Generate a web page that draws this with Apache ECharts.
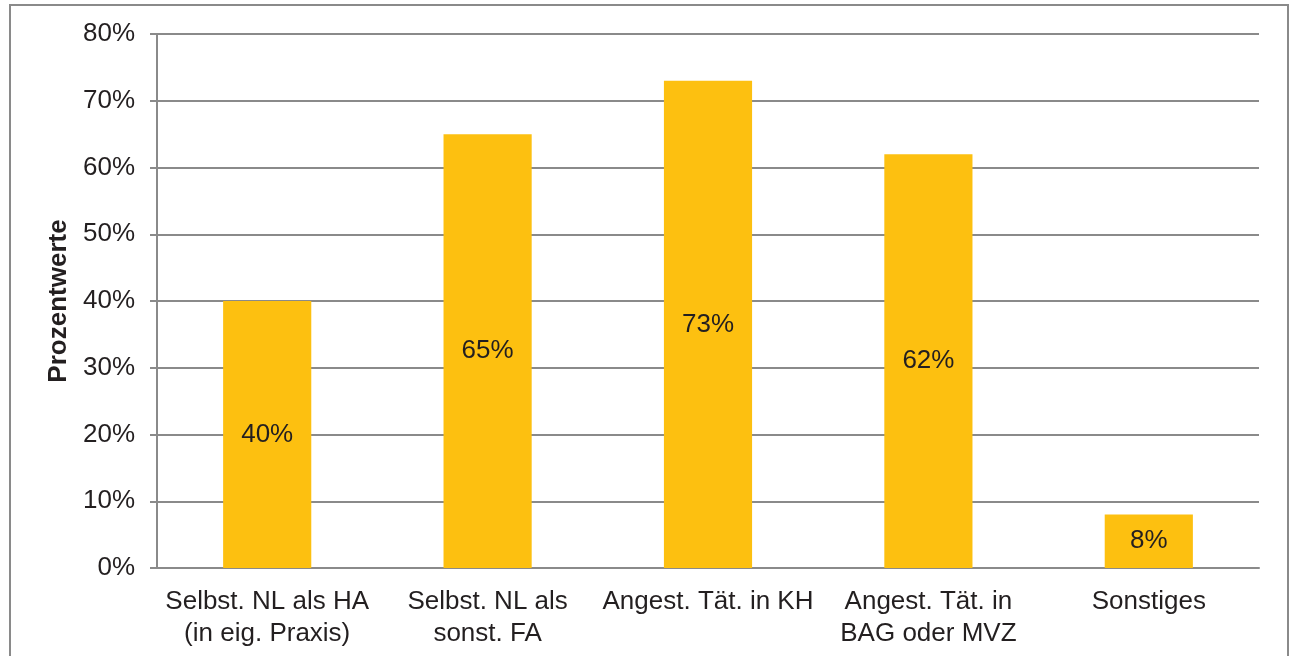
<!DOCTYPE html>
<html>
<head>
<meta charset="utf-8">
<script src="https://cdn.jsdelivr.net/npm/echarts@6/dist/echarts.min.js"></script>
<style>
  html, body { margin: 0; padding: 0; background: #fff; }
  #chart { width: 1295px; height: 656px; }
</style>
</head>
<body>
<div id="chart"></div>
<script>
// Kategorien und Werte (Prozent)
const categories = [
  "Selbst. NL als HA\n(in eig. Praxis)",
  "Selbst. NL als\nsonst. FA",
  "Angest. Tät. in KH",
  "Angest. Tät. in\nBAG oder MVZ",
  "Sonstiges"
];
const values = [40, 65, 73, 62, 8];
const yTicks = { min: 0, max: 80, interval: 10 };

const FONT = "Liberation Sans, Arial, sans-serif";
const TEXT = "#231f20";
const LINE = "#8a8a8a";

const chart = echarts.init(document.getElementById("chart"), null, { renderer: "canvas" });
chart.setOption({
  backgroundColor: "#fff",
  animation: false,
  textStyle: { fontFamily: FONT },
  graphic: [{
    type: "rect",
    shape: { x: 10, y: 5, width: 1278, height: 700 },
    style: { fill: "none", stroke: LINE, lineWidth: 2 },
    silent: true
  }],
  grid: { left: 157, right: 36, top: 34, bottom: 88 },
  xAxis: {
    type: "category",
    data: categories,
    axisLine: { lineStyle: { color: LINE, width: 2 } },
    axisTick: { length: 7, lineStyle: { color: LINE, width: 2 } },
    axisLabel: { color: TEXT, fontSize: 26, lineHeight: 32, margin: 18, fontFamily: FONT, interval: 0 }
  },
  yAxis: {
    type: "value",
    min: yTicks.min, max: yTicks.max, interval: yTicks.interval,
    name: "Prozentwerte",
    nameLocation: "middle",
    nameRotate: 90,
    nameGap: 82,
    nameTextStyle: { color: TEXT, fontSize: 26, fontWeight: "bold", fontFamily: FONT },
    axisLine: { show: true, lineStyle: { color: LINE, width: 2 } },
    axisTick: { show: true, length: 7, lineStyle: { color: LINE, width: 2 } },
    axisLabel: { color: TEXT, fontSize: 26, margin: 22, fontFamily: FONT, formatter: v => v + "%" },
    splitLine: { lineStyle: { color: LINE, width: 2 } }
  },
  series: [{
    type: "bar",
    data: values,
    barWidth: "40%",
    itemStyle: { color: "#fdc010" },
    label: {
      show: true, position: "inside", color: TEXT, fontSize: 26, fontFamily: FONT,
      formatter: p => p.value + "%"
    }
  }]
});
</script>
</body>
</html>
